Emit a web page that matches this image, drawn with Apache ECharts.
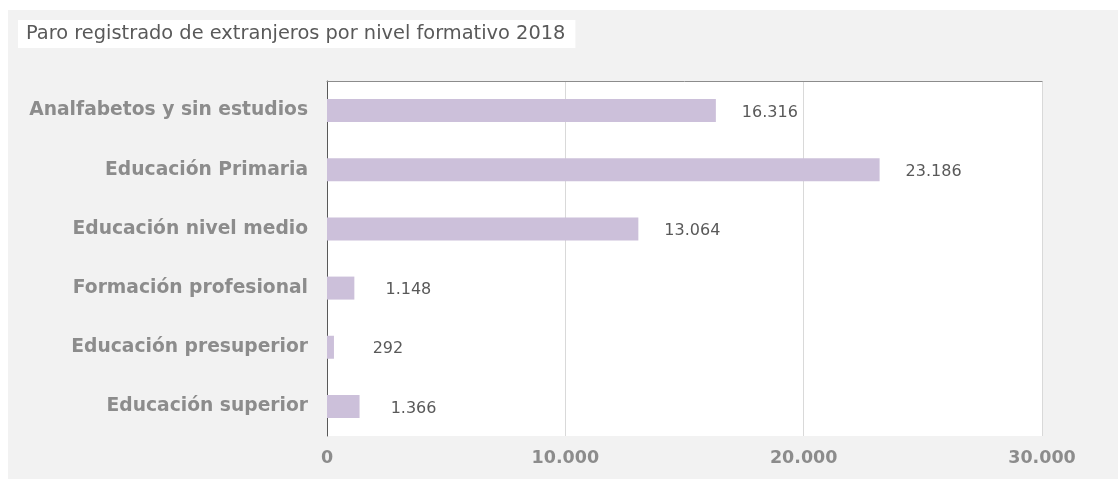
<!DOCTYPE html>
<html>
<head>
<meta charset="utf-8">
<script src="https://cdn.jsdelivr.net/npm/echarts@6/dist/echarts.min.js"></script>
<style>
  html, body { margin: 0; padding: 0; background: #ffffff; width: 1118px; height: 479px; overflow: hidden; }
  #chart { position: absolute; left: 8px; top: 10px; width: 1110px; height: 469px; background: #f2f2f2; }
</style>
</head>
<body>
<div id="chart"></div>
<script>
const titleText = 'Paro registrado de extranjeros por nivel formativo 2018';
const categories = [
  'Analfabetos y sin estudios',
  'Educación Primaria',
  'Educación nivel medio',
  'Formación profesional',
  'Educación presuperior',
  'Educación superior'
];
const values = [16316, 23186, 13064, 1148, 292, 1366];
const axisMin = 0;
const axisMax = 30000;
const axisStep = 10000;

function fmt(n) {
  return String(Math.round(n)).replace(/\B(?=(\d{3})+(?!\d))/g, '.');
}

const chart = echarts.init(document.getElementById('chart'), null, { renderer: 'canvas' });
chart.setOption({
  backgroundColor: '#f2f2f2',
  animation: false,
  title: {
    text: titleText,
    left: 10,
    top: 10,
    backgroundColor: '#ffffff',
    padding: [4, 10, 4, 8],
    textStyle: {
      fontFamily: 'DejaVu Sans',
      fontSize: 19.4,
      fontWeight: 'normal',
      color: '#595959',
      lineHeight: 20
    }
  },
  grid: {
    left: 319,
    top: 71,
    right: 76,
    bottom: 43,
    show: true,
    backgroundColor: '#ffffff',
    borderWidth: 0,
    containLabel: false
  },
  xAxis: [
    {
      type: 'value',
      min: axisMin,
      max: axisMax,
      interval: axisStep,
      position: 'bottom',
      axisLine: { show: false },
      axisTick: { show: false },
      splitLine: { show: true, lineStyle: { color: '#d9d9d9', width: 1 } },
      axisLabel: {
        margin: 13,
        fontFamily: 'DejaVu Sans',
        fontWeight: 'bold',
        fontSize: 17.5,
        color: '#8c8c8c',
        formatter: v => fmt(v)
      }
    },
    {
      type: 'value',
      min: axisMin,
      max: axisMax,
      interval: axisStep,
      position: 'top',
      axisLine: { show: true, lineStyle: { color: '#8c8c8c', width: 1 } },
      axisTick: { show: false },
      splitLine: { show: false },
      axisLabel: { show: false }
    }
  ],
  yAxis: {
    type: 'category',
    data: categories,
    inverse: true,
    axisLine: { show: true, lineStyle: { color: '#595959', width: 1 } },
    axisTick: { show: false },
    axisLabel: {
      margin: 19,
      fontFamily: 'DejaVu Sans',
      fontWeight: 'bold',
      fontSize: 18.7,
      color: '#8c8c8c'
    }
  },
  series: [{
    type: 'bar',
    data: values,
    xAxisIndex: 0,
    barWidth: 23,
    itemStyle: { color: '#ccc0da' },
    label: {
      show: true,
      position: 'right',
      distance: 54,
      align: 'center',
      offset: [0, 2],
      fontFamily: 'DejaVu Sans',
      fontSize: 16,
      color: '#595959',
      formatter: p => fmt(p.value)
    }
  }]
});
</script>
</body>
</html>
